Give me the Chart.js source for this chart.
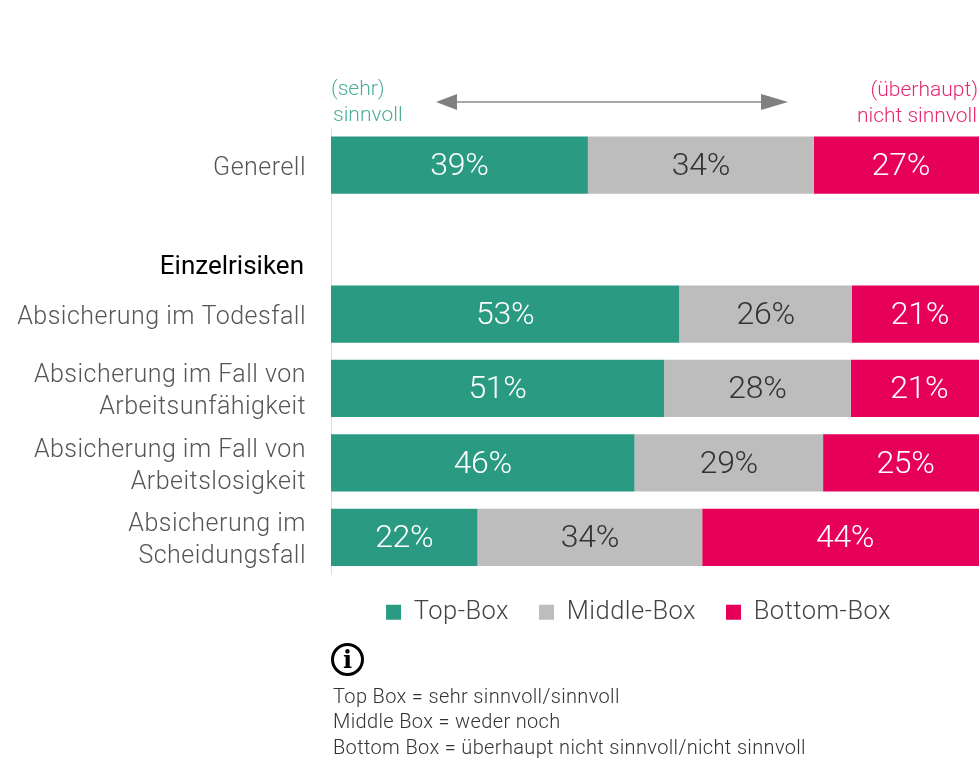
<!DOCTYPE html>
<html lang="de">
<head>
<meta charset="utf-8">
<title>Sinnvoll</title>
<script src="https://cdn.jsdelivr.net/npm/chart.js@4"></script>
<style>
html,body{margin:0;padding:0;width:979px;height:758px;overflow:hidden;background:#fff}
#wrap{position:relative;width:979px;height:758px;overflow:hidden;font-family:Roboto,sans-serif;font-weight:300}
#box{position:absolute;left:0;top:0;width:995px;height:758px}
.t{position:absolute;white-space:nowrap;line-height:1}
</style>
</head>
<body>
<div id="wrap">
<div id="box"><canvas id="c" width="995" height="758"></canvas></div>
<svg style="position:absolute;left:0;top:0" width="979" height="758">
<line x1="455" y1="102" x2="768" y2="102" stroke="#8a8a8a" stroke-width="1.5"/>
<polygon points="436,102 457,94 457,110" fill="#808080"/>
<polygon points="788,102 761,94 761,110" fill="#808080"/>
</svg>
<div class="t" style="left:331px;top:78px;font-size:21px;color:#4cae98">(sehr)</div>
<div class="t" style="left:333px;top:104px;font-size:21px;color:#4cae98">sinnvoll</div>
<div class="t" style="right:1px;top:79px;font-size:21px;color:#e8286f">(überhaupt)</div>
<div class="t" style="right:2px;top:105px;font-size:21px;color:#e8286f">nicht sinnvoll</div>
<div class="t" style="right:675px;top:252px;font-size:26px;font-weight:400;color:#000">Einzelrisiken</div>
<div class="t" style="left:331px;top:643px;width:27px;height:27px;border:3px solid #000;border-radius:50%;font:bold 24px/27px 'DejaVu Serif',serif;text-align:center;color:#000">i</div>
<div class="t" style="left:333px;top:686px;font-size:20px;letter-spacing:.35px;color:#333">Top Box = sehr sinnvoll/sinnvoll</div>
<div class="t" style="left:333px;top:711px;font-size:20px;letter-spacing:.35px;color:#333">Middle Box = weder noch</div>
<div class="t" style="left:333px;top:737px;font-size:20px;letter-spacing:.35px;color:#333">Bottom Box = überhaupt nicht sinnvoll/nicht sinnvoll</div>
</div>
<script>
const categories = ["Generell", "", "Absicherung im Todesfall",
  ["Absicherung im Fall von", "Arbeitsunfähigkeit"],
  ["Absicherung im Fall von", "Arbeitslosigkeit"],
  ["Absicherung im", "Scheidungsfall"]];
const seriesNames = ["Top-Box", "Middle-Box", "Bottom-Box"];
const topBox = [39.1, null, 53, 50.7, 46.2, 22.3];
const middleBox = [34.4, null, 26.3, 28.4, 28.7, 34.2];
const bottomBox = [26.5, null, 20.7, 20.9, 25.1, 43.5];
const seriesColors = ["#2a9a83", "#bdbdbd", "#e6005a"];
const labelColors = ["#ffffff", "#333333", "#ffffff"];
const FONT = "Roboto";
const spacing = "0.48px";

const barLabels = {
  id: "barLabels",
  afterDatasetsDraw(chart) {
    const ctx = chart.ctx;
    chart.data.datasets.forEach((ds, i) => {
      chart.getDatasetMeta(i).data.forEach((bar, j) => {
        if (ds.data[j] == null) return;
        ctx.save();
        ctx.font = "300 32px " + FONT;
        ctx.letterSpacing = "-0.3px";
        ctx.fillStyle = labelColors[i];
        ctx.textAlign = "center";
        ctx.textBaseline = "middle";
        const c = bar.getCenterPoint();
        ctx.fillText(Math.round(ds.data[j]) + "%", c.x, c.y + 2);
        ctx.restore();
      });
    });
  }
};
const tune = {
  id: "tune",
  beforeUpdate(chart) { chart.ctx.letterSpacing = spacing; },
  beforeDraw(chart) { chart.ctx.letterSpacing = spacing; },
  afterLayout(chart) {
    chart.legend.left -= 21; chart.legend.right -= 21;
    chart.legend.top -= 5; chart.legend.bottom -= 5;
  }
};

new Chart(document.getElementById("c"), {
  type: "bar",
  data: {
    labels: categories,
    datasets: seriesNames.map((n, i) => ({
      label: n,
      data: [topBox, middleBox, bottomBox][i],
      backgroundColor: seriesColors[i],
      stack: "s",
      barPercentage: 0.77,
      categoryPercentage: 1
    }))
  },
  options: {
    indexAxis: "y",
    responsive: false,
    animation: false,
    layout: { padding: { top: 128, right: 7, bottom: 118, left: 0 } },
    scales: {
      x: { stacked: true, min: 0, max: 100, display: false },
      y: {
        stacked: true,
        afterFit(s) {
          s.width = 331;
          const draw = s.drawLabels;
          if (!s._shifted) {
            s._shifted = true;
            s.drawLabels = function (area) {
              const ctx = this.ctx;
              ctx.save();
              ctx.translate(0, 3.5);
              draw.call(this, area);
              ctx.restore();
            };
          }
        },
        grid: { display: false, drawBorder: false },
        border: { color: "#dddddd", width: 1 },
        ticks: {
          padding: 17,
          autoSkip: false,
          color: "#555555",
          font: { family: FONT, weight: 300, size: 25, lineHeight: 1.28 }
        }
      }
    },
    plugins: {
      tooltip: { enabled: false },
      title: { display: false },
      legend: {
        position: "bottom",
        fullSize: false,
        labels: {
          color: "#444444",
          boxWidth: 15, boxHeight: 15,
          padding: 30,
          font: { family: FONT, weight: 300, size: 25.5 }
        }
      }
    }
  },
  plugins: [tune, barLabels]
});
</script>
</body>
</html>
